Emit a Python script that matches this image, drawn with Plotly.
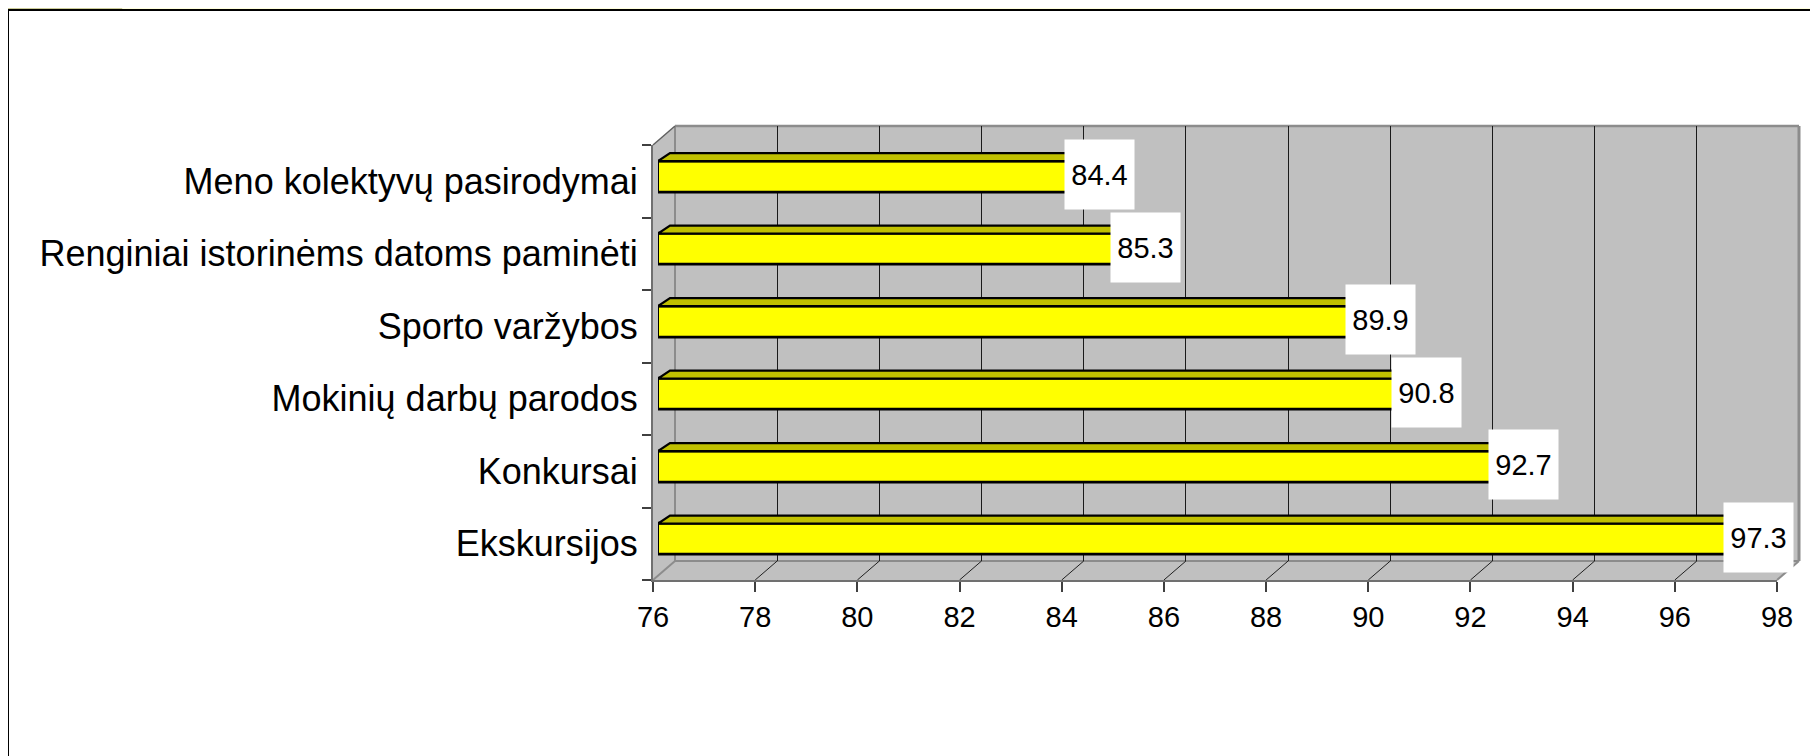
import plotly.graph_objects as go

W, H = 1818, 756
# the page body adds an 8px margin around the plot div; positions below are window pixels
OFF = 8

# data, listed bottom to top as in the chart
categories = ["Ekskursijos", "Konkursai", "Mokinių darbų parodos", "Sporto varžybos",
              "Renginiai istorinėms datoms paminėti", "Meno kolektyvų pasirodymai"]
values = [97.3, 92.7, 90.8, 89.9, 85.3, 84.4]
x_ticks = [76, 78, 80, 82, 84, 86, 88, 90, 92, 94, 96, 98]
x_min, x_max = 76, 98

FONT = "Liberation Sans, Arial, sans-serif"


def px(x):
    return (x - OFF) / W


def py(y):
    return 1 - (y - OFF) / H


# geometry of the fake 3d box (pixels)
front_l, front_r, front_t, front_b = 653, 1777, 145, 580
depth_x, depth_y = 22, -19     # front plane -> back wall
bar_off_x, bar_off_y = 5, -4.5  # front plane -> bar front face
bar_dx, bar_dy = 12, 8          # bar depth
unit = (front_r - front_l) / (x_max - x_min)
cat_h = (front_b - front_t) / len(categories)
bar_w = 0.43

pos = list(range(len(categories)))
yr = [-0.5, len(categories) - 0.5]

fig = go.Figure()

# bars (front faces)
fig.add_trace(go.Bar(
    y=pos, x=[v - x_min for v in values], base=x_min, orientation="h",
    width=bar_w, xaxis="x2", yaxis="y2",
    marker=dict(color="#FFFF00", line=dict(color="black", width=2.8)),
    hoverinfo="skip", showlegend=False,
))
# invisible traces so the back wall and front axes get drawn
for xa, ya in (("x", "y"), ("x3", "y3")):
    fig.add_trace(go.Scatter(x=[x_min], y=[0], xaxis=xa, yaxis=ya, mode="markers",
                             marker=dict(opacity=0), hoverinfo="skip", showlegend=False))

shapes = []
# slide frame
frame = [
    (0, 0, 122.5, 9.5, "#CCCC99"),
    (122.5, 0, W + OFF, 9.5, "#FFFFDD"),
    (0, 0, 7.5, 662, "#CCCC99"),
    (0, 662, 7.5, 671, "#400040"),
    (0, 671, 7.5, H + OFF, "#FFFFDD"),
]
for x0, y0, x1, y1, c in frame:
    shapes.append(dict(type="rect", xref="paper", yref="paper", x0=px(x0), x1=px(x1),
                       y0=py(y1), y1=py(y0), fillcolor=c, line=dict(width=0), layer="below"))
shapes.append(dict(type="line", xref="paper", yref="paper", x0=px(8), x1=px(W + OFF),
                   y0=py(10), y1=py(10), line=dict(color="black", width=2)))
shapes.append(dict(type="line", xref="paper", yref="paper", x0=px(8), x1=px(8),
                   y0=py(10), y1=py(H + OFF), line=dict(color="black", width=2)))

# walls
bl, br = front_l + depth_x, front_r + depth_x
bt, bb = front_t + depth_y, front_b + depth_y


def poly(pts, fill):
    d = "M " + " L ".join(f"{px(a):.5f},{py(b):.5f}" for a, b in pts) + " Z"
    return dict(type="path", xref="paper", yref="paper", path=d, fillcolor=fill,
                line=dict(width=0), layer="below")


shapes.append(poly([(bl, bt), (br, bt), (br, bb), (bl, bb)], "#C0C0C0"))
shapes.append(poly([(front_l, front_t), (bl, bt), (bl, bb), (front_l, front_b)], "#C0C0C0"))
shapes.append(poly([(front_l, front_b), (front_r, front_b), (br, bb), (bl, bb)], "#C0C0C0"))


def seg(x0, y0, x1, y1, c, w):
    return dict(type="line", xref="paper", yref="paper", x0=px(x0), y0=py(y0), x1=px(x1), y1=py(y1),
                line=dict(color=c, width=w), layer="below")


shapes.append(seg(bl, bt, br, bt, "#8C8C8C", 2.5))
shapes.append(seg(br, bt, br, bb, "#8C8C8C", 3))
shapes.append(seg(bl, bt, bl, bb, "#8C8C8C", 2))
shapes.append(seg(bl, bb, br, bb, "#8C8C8C", 2))
shapes.append(seg(front_l, front_t, bl, bt, "#606060", 1.5))
shapes.append(seg(front_l, front_b, bl, bb, "#8C8C8C", 2))
shapes.append(seg(front_r, front_b, br, bb, "#8C8C8C", 2))
for v in x_ticks[1:-1]:
    xf = front_l + (v - x_min) * unit
    shapes.append(seg(xf, front_b, xf + depth_x, bb, "#202020", 1))

# bar top faces, in bar-plane data units
dxu = bar_dx / unit
dyu = bar_dy / cat_h
for c, v in zip(pos, values):
    yt = c + bar_w / 2
    d = (f"M {x_min},{yt} L {v},{yt} L {v + dxu},{yt + dyu} "
         f"L {x_min + dxu},{yt + dyu} Z")
    shapes.append(dict(type="path", xref="x2", yref="y2", path=d, fillcolor="#C0C000",
                       line=dict(color="black", width=2.2), layer="above"))

# value labels
annotations = []
for c, v in zip(pos, values):
    annotations.append(dict(
        x=v + dxu, y=c + 0.03, xref="x2", yref="y2", text=f"{v:.1f}", showarrow=False,
        font=dict(family=FONT, size=29, color="black"), bgcolor="white",
        width=69, height=69, borderpad=0, valign="middle", align="center",
    ))

dom_x_back = [px(bl), px(br)]
dom_y_back = [py(bb), py(bt)]
dom_x_bar = [px(front_l + bar_off_x), px(front_r + bar_off_x)]
dom_y_bar = [py(front_b + bar_off_y), py(front_t + bar_off_y)]
dom_x_front = [px(front_l), px(front_r)]
dom_y_front = [py(front_b), py(front_t)]

hidden = dict(showgrid=False, zeroline=False, showticklabels=False, ticks="", showline=False,
              automargin=False)

fig.update_layout(
    width=W, height=H,
    margin=dict(l=0, r=0, t=0, b=0),
    paper_bgcolor="white", plot_bgcolor="rgba(0,0,0,0)",
    bargap=0,
    showlegend=False,
    # back wall: only the vertical gridlines
    xaxis=dict(domain=dom_x_back, range=[x_min, x_max], anchor="y", showgrid=True,
               tickvals=x_ticks[1:-1], gridcolor="#1a1a1a", gridwidth=1, automargin=False,
               zeroline=False, showticklabels=False, ticks="", showline=False),
    yaxis=dict(domain=dom_y_back, range=yr, anchor="x", **hidden),
    # bar plane
    xaxis2=dict(domain=dom_x_bar, range=[x_min, x_max], anchor="y2", **hidden),
    yaxis2=dict(domain=dom_y_bar, range=yr, anchor="x2", **hidden),
    # front plane with the visible axes
    xaxis3=dict(domain=dom_x_front, range=[x_min, x_max], anchor="y3", tickvals=x_ticks,
                ticks="outside", ticklen=10, tickwidth=1.5, tickcolor="#404040", automargin=False,
                showline=True, linecolor="#707070", linewidth=2, showgrid=False, zeroline=False,
                tickfont=dict(family=FONT, size=29, color="black")),
    yaxis3=dict(domain=dom_y_front, range=yr, anchor="x3", tickvals=pos, ticktext=categories,
                ticks="", showline=True, linecolor="#707070", linewidth=2, showgrid=False,
                zeroline=False, ticklabelstandoff=6, automargin=False,
                minor=dict(tickvals=[p - 0.5 for p in pos] + [pos[-1] + 0.5], ticks="outside",
                           ticklen=9, tickwidth=1.5, tickcolor="#404040"),
                tickfont=dict(family=FONT, size=36, color="black")),
    shapes=shapes,
    annotations=annotations,
)

fig.write_html("out.html")
